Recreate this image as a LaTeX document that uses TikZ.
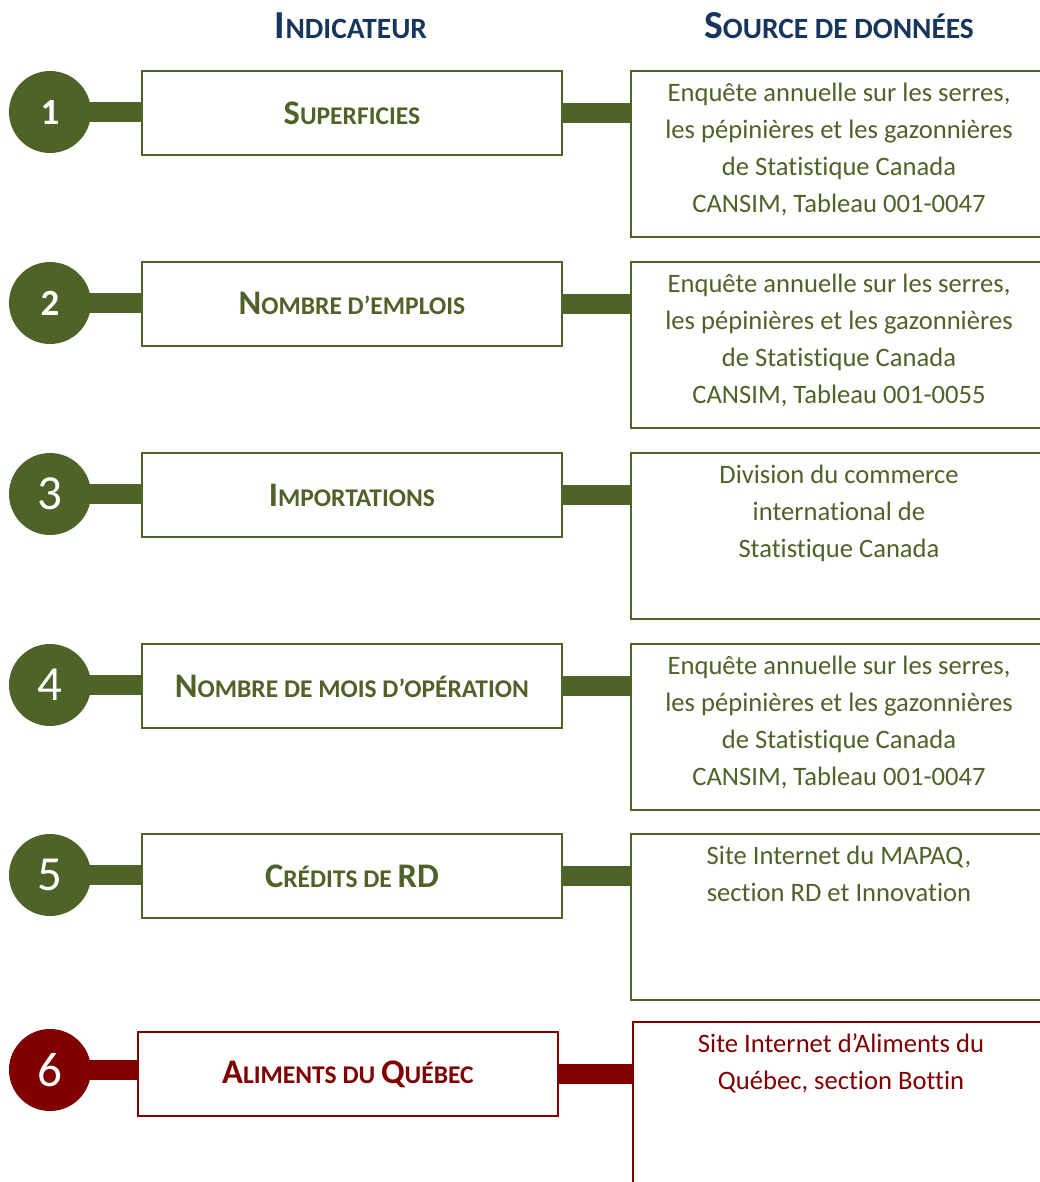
\documentclass[tikz,border=0pt]{standalone}
\usepackage{fontspec}
\setmainfont{Carlito}[RawFeature={-liga;-clig;-calt;-dlig}]
\usetikzlibrary{backgrounds}
\definecolor{olv}{HTML}{4F6228}
\definecolor{nvy}{HTML}{17365D}
\definecolor{drd}{HTML}{800000}
\newcommand\bigL[1]{{\fontsize{34.5}{34.5}\selectfont #1}}
\newcommand\hbigL[1]{{\fontsize{39.7}{39.7}\selectfont #1}}
\tikzset{
  x=1pt, y=-1pt,
  numc/.style={circle, fill=#1, minimum size=82pt, inner sep=0pt, text=white},
  indbox/.style={draw=#1, line width=1.8pt, fill=white, minimum width=420pt, minimum height=84pt, inner sep=0pt, anchor=north west, text=#1, font=\bfseries\fontsize{25.5}{25.5}\selectfont},
  srcbox/.style={draw=#1, line width=1.8pt, fill=white, minimum width=412pt, minimum height=166pt, inner sep=0pt, anchor=north west},
  srctxt/.style={anchor=north, align=center, inner sep=0pt, text=#1, font=\fontsize{26.6}{37}\selectfont},
  bar/.style={draw=#1, line width=20pt},
  hdr/.style={text=nvy, font=\bfseries\fontsize{29.4}{29.4}\selectfont, inner sep=0pt}
}
\begin{document}
\begin{tikzpicture}
\useasboundingbox (0,0) rectangle (1039,1182);
\node[hdr] (h1) at (351,26) {\hbigL{I}NDICATEUR};
\node[hdr] (h2) at (839,26) {\hbigL{S}OURCE DE DONNÉES};

% row 1
\node[numc=olv, font=\bfseries\fontsize{37}{37}\selectfont] (c1) at (50,112) {1};
\node[indbox=olv] (b1) at (141,70) {\bigL{S}UPERFICIES};
\node[srcbox=olv] (s1) at (630,70) {};
\node[srctxt=olv] (t1) at (839,83) {Enquête annuelle sur les serres,\\les pépinières et les gazonnières\\de Statistique Canada\\CANSIM, Tableau 001-0047};
% row 2
\node[numc=olv, font=\bfseries\fontsize{37}{37}\selectfont] (c2) at (50,303) {2};
\node[indbox=olv] (b2) at (141,261) {\bigL{N}OMBRE D’EMPLOIS};
\node[srcbox=olv] (s2) at (630,261) {};
\node[srctxt=olv] (t2) at (839,274) {Enquête annuelle sur les serres,\\les pépinières et les gazonnières\\de Statistique Canada\\CANSIM, Tableau 001-0055};
% row 3
\node[numc=olv, font=\fontsize{49}{49}\selectfont] (c3) at (50,494) {3};
\node[indbox=olv] (b3) at (141,452) {\bigL{I}MPORTATIONS};
\node[srcbox=olv] (s3) at (630,452) {};
\node[srctxt=olv] (t3) at (839,465) {Division du commerce\\international de\\Statistique Canada};
% row 4
\node[numc=olv, font=\fontsize{49}{49}\selectfont] (c4) at (50,685) {4};
\node[indbox=olv] (b4) at (141,643) {\bigL{N}OMBRE DE MOIS D’OPÉRATION};
\node[srcbox=olv] (s4) at (630,643) {};
\node[srctxt=olv] (t4) at (839,656) {Enquête annuelle sur les serres,\\les pépinières et les gazonnières\\de Statistique Canada\\CANSIM, Tableau 001-0047};
% row 5
\node[numc=olv, font=\fontsize{49}{49}\selectfont] (c5) at (50,875) {5};
\node[indbox=olv] (b5) at (141,833) {\bigL{C}RÉDITS DE \bigL{RD}};
\node[srcbox=olv] (s5) at (630,833) {};
\node[srctxt=olv] (t5) at (839,846) {Site Internet du MAPAQ,\\section RD et Innovation};
% row 6
\node[numc=drd, font=\fontsize{49}{49}\selectfont] (c6) at (50,1070) {6};
\node[indbox=drd] (b6) at (137,1031) {\bigL{A}LIMENTS DU \bigL{Q}UÉBEC};
\node[srcbox=drd] (s6) at (632,1021) {};
\node[srctxt=drd] (t6) at (841,1034) {Site Internet d’Aliments du\\Québec, section Bottin};

\begin{scope}[on background layer]
\foreach \i/\c in {1/olv,2/olv,3/olv,4/olv,5/olv,6/drd}{
  \draw[bar=\c] (c\i.center) -- (c\i.center -| b\i.west);
  \draw[bar=\c] (b\i.east) -- (b\i.east -| s\i.west);
}
\end{scope}
\end{tikzpicture}
\end{document}
